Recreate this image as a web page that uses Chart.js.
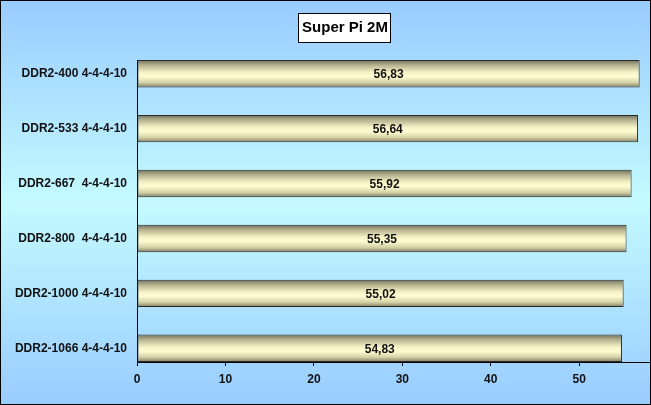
<!DOCTYPE html>
<html>
<head>
<meta charset="utf-8">
<script src="https://cdn.jsdelivr.net/npm/chart.js@4/dist/chart.umd.min.js"></script>
<style>
  html, body { margin: 0; padding: 0; background: #fff; }
  #wrap { width: 651px; height: 405px; }
</style>
</head>
<body>
<div id="wrap"><canvas id="c" width="651" height="405"></canvas></div>
<script>
// Super Pi 2M timings (seconds) per memory configuration
const chartTitle = 'Super Pi 2M';
const categories = [
  'DDR2-400 4-4-4-10',
  'DDR2-533 4-4-4-10',
  'DDR2-667  4-4-4-10',
  'DDR2-800  4-4-4-10',
  'DDR2-1000 4-4-4-10',
  'DDR2-1066 4-4-4-10'
];
const times = [56.83, 56.64, 55.92, 55.35, 55.02, 54.83];
const xTicks = [0, 10, 20, 30, 40, 50];

const FONT = 'Arial, "Liberation Sans", sans-serif';
const fmt = v => v.toFixed(2).replace('.', ',');

// light blue backdrop that brightens toward the middle, plus a dark frame
const backdrop = {
  id: 'backdrop',
  beforeDraw(chart) {
    const { ctx, width, height } = chart;
    const g = ctx.createLinearGradient(0, 0, 0, height);
    g.addColorStop(0, '#99ccff');
    g.addColorStop(0.5, '#c4faff');
    g.addColorStop(1, '#99ccff');
    ctx.save();
    ctx.fillStyle = g;
    ctx.fillRect(0, 0, width, height);
    ctx.restore();
  },
  afterDraw(chart) {
    const { ctx, width, height } = chart;
    ctx.save();
    ctx.strokeStyle = '#000';
    ctx.lineWidth = 1;
    ctx.strokeRect(0.5, 0.5, width - 1, height - 1);
    ctx.restore();
  }
};

// boxed title
const boxedTitle = {
  id: 'boxedTitle',
  afterDraw(chart) {
    const { ctx } = chart;
    ctx.save();
    ctx.fillStyle = '#fff';
    ctx.fillRect(298, 13, 93, 30);
    ctx.strokeStyle = '#000';
    ctx.lineWidth = 1;
    ctx.strokeRect(298.5, 13.5, 92, 29);
    ctx.fillStyle = '#000';
    ctx.font = 'bold 15px ' + FONT;
    ctx.textAlign = 'center';
    ctx.textBaseline = 'middle';
    ctx.fillText(chartTitle, 345, 28);
    ctx.restore();
  }
};

// value printed in the middle of each bar
const valueLabels = {
  id: 'valueLabels',
  afterDatasetsDraw(chart) {
    const { ctx } = chart;
    const meta = chart.getDatasetMeta(0);
    ctx.save();
    ctx.fillStyle = '#111';
    ctx.font = 'bold 12px ' + FONT;
    ctx.textAlign = 'center';
    ctx.textBaseline = 'middle';
    meta.data.forEach((bar, i) => {
      const p = bar.getProps(['x', 'y', 'base'], true);
      ctx.fillText(fmt(times[i]), (p.x + p.base) / 2, p.y + 1);
    });
    ctx.restore();
  }
};

// cylinder-like shading across each bar
function barFill(context) {
  const chart = context.chart;
  const y = chart.scales && chart.scales.y;
  if (!y || context.type !== 'data') return '#f4f0c0';
  const cy = y.getPixelForValue(context.dataIndex);
  const half = Math.abs(y.getPixelForValue(1) - y.getPixelForValue(0)) * 0.25;
  if (!isFinite(cy) || !isFinite(half) || half <= 0) return '#f4f0c0';
  const g = chart.ctx.createLinearGradient(0, cy - half, 0, cy + half);
  g.addColorStop(0, '#6f6f5a');
  g.addColorStop(0.18, '#b4b08e');
  g.addColorStop(0.45, '#f6f2c6');
  g.addColorStop(0.6, '#fffdd2');
  g.addColorStop(0.82, '#d6d2a8');
  g.addColorStop(1, '#7c7a62');
  return g;
}

new Chart(document.getElementById('c'), {
  type: 'bar',
  data: {
    datasets: [{
      data: times.map((v, i) => ({ x: v, y: i })),
      backgroundColor: barFill,
      borderColor: '#2a2a2a',
      borderWidth: 1,
      borderSkipped: false,
      categoryPercentage: 1,
      barPercentage: 0.5
    }]
  },
  options: {
    indexAxis: 'y',
    responsive: false,
    animation: false,
    layout: { padding: { left: 0, top: 60, right: 1, bottom: 0 } },
    plugins: {
      legend: { display: false },
      title: { display: false },
      tooltip: { enabled: false }
    },
    scales: {
      x: {
        type: 'linear',
        min: 0,
        max: 58,
        afterBuildTicks(s) { s.ticks = xTicks.map(v => ({ value: v })); },
        afterFit(s) { s.height = 43; },
        grid: { display: true, drawOnChartArea: false, drawTicks: true, tickLength: 4, color: '#000' },
        border: { display: true, color: '#000', width: 1 },
        ticks: { color: '#111', font: { family: FONT, size: 12, weight: 'bold' }, padding: 6, maxRotation: 0 }
      },
      y: {
        type: 'linear',
        reverse: true,
        offset: false,
        min: -0.25,
        max: 5.25,
        afterBuildTicks(s) { s.ticks = categories.map((_, i) => ({ value: i })); },
        afterFit(s) { s.width = 137; },
        grid: { display: false, drawTicks: false },
        border: { display: true, color: '#000', width: 1 },
        ticks: {
          color: '#111',
          font: { family: FONT, size: 12, weight: 'bold' },
          padding: 10,
          callback: v => categories[v]
        }
      }
    }
  },
  plugins: [backdrop, valueLabels, boxedTitle]
});
</script>
</body>
</html>
